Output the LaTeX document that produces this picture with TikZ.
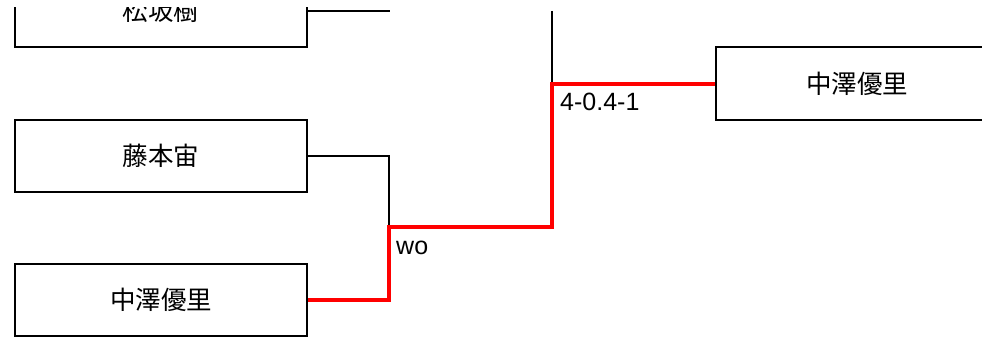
\documentclass[tikz,border=0pt]{standalone}
\usepackage{fontspec}
\setmainfont{Liberation Sans}
\newfontfamily\jp{Noto Sans CJK JP}
\begin{document}
\begin{tikzpicture}[x=1pt,y=-1pt,
  player/.style={draw=black,line width=2pt,minimum width=292pt,minimum height=72pt,inner sep=0pt,font=\jp\fontsize{25.5}{30}\selectfont},
  link/.style={draw=black,line width=2pt},
  win/.style={draw=red,line width=4pt},
  score/.style={font=\fontsize{25}{30}\selectfont,anchor=base west,inner sep=0pt}]
\useasboundingbox (0,0) rectangle (982,337);
\clip (0,0) rectangle (982,337);
\begin{scope}
\clip (0,8) rectangle (982,337);
\node[player] (p1) at (161,11) {松坂樹};
\end{scope}
\node[player] (p2) at (161,156) {藤本宙};
\node[player] (p3) at (161,300) {中澤優里};
\node[player, minimum width=282pt] (w) at (857,83.5) {中澤優里};
\coordinate (t1) at (390,11);
\coordinate (t2) at (552,11);
\coordinate (m1) at (389,227);
\coordinate (m2) at (552,83.5);
\draw[link] (p1.east) -- (t1);
\draw[link] (p2.east) -| (m1);
\draw[link] (t2) -- (m2);
\draw[win] (p3.east) -| (m1) -| (m2) -- (w.west);
\node[score] (s1) at (396,254) {wo};
\node[score] (s2) at (560,110) {4-0.4-1};
\end{tikzpicture}
\end{document}
